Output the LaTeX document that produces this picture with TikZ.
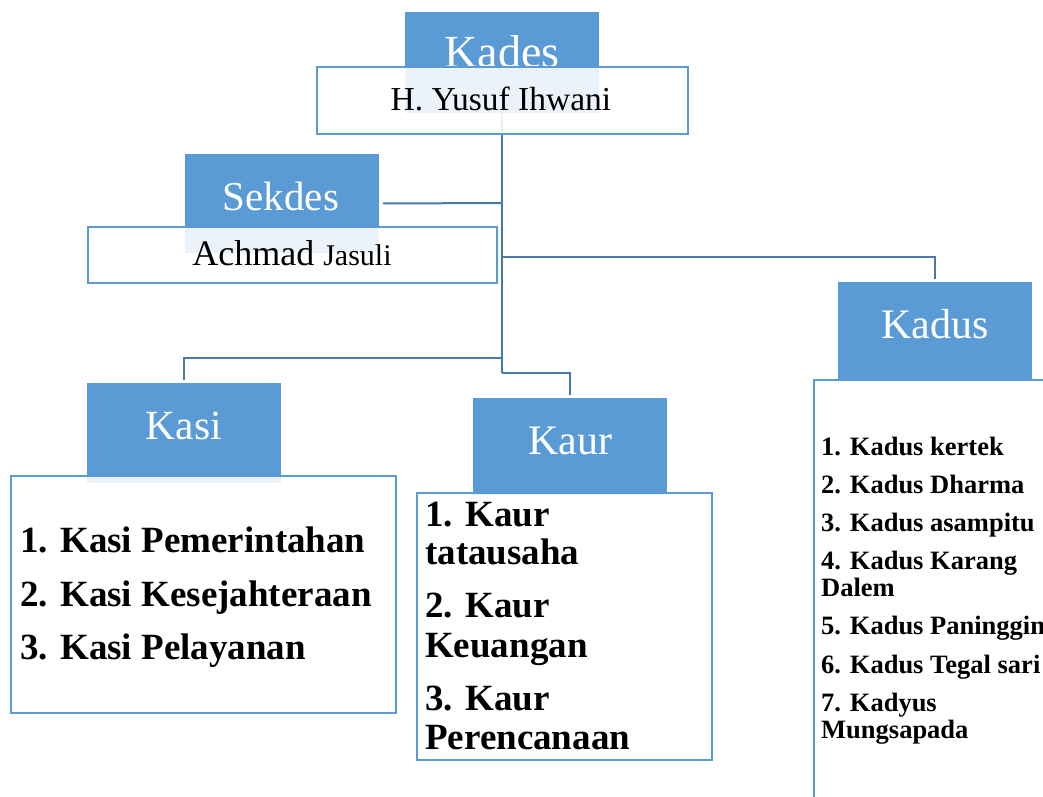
\documentclass[tikz,border=0pt]{standalone}
\usepackage{fontspec}
\setmainfont{Liberation Serif}
\definecolor{boxblue}{HTML}{5B9BD5}
\definecolor{linkblue}{RGB}{71,121,170}
\tikzset{
  bluebox/.style={rectangle, fill=boxblue, draw=none, inner sep=0pt},
  whitebox/.style={rectangle, draw=boxblue, line width=2pt, fill=white, fill opacity=0.88, inner sep=0pt},
  link/.style={draw=linkblue, line width=2pt},
  title/.style={inner sep=0pt, anchor=base, text=white, font=\fontsize{42}{48}\selectfont},
  nametext/.style={inner sep=0pt, anchor=base},
  bigitem/.style={inner sep=0pt, anchor=base west, font=\fontsize{37}{42}\selectfont\bfseries},
  smallitem/.style={inner sep=0pt, anchor=base west, font=\fontsize{26.5}{30}\selectfont\bfseries}
}
\begin{document}
\begin{tikzpicture}[x=1pt,y=-1pt]
\useasboundingbox (0,0) rectangle (1043,796);
\clip (0,0) rectangle (1043,796);
\fill[white] (0,0) rectangle (1043,796);

% junction coordinates on the trunk
\coordinate (j1) at (502,203);
\coordinate (j2) at (502,257);
\coordinate (j3) at (502,358);
\coordinate (j4) at (502,373);

% blue title boxes
\node[bluebox, minimum width=194pt, minimum height=101pt] (kadesB) at (502,62.5) {};
\node[bluebox, minimum width=194pt, minimum height=99pt] (sekdesB) at (282,203.5) {};
\node[bluebox, minimum width=194pt, minimum height=98pt] (kadusB) at (935,331) {};
\node[bluebox, minimum width=194pt, minimum height=100pt] (kasiB) at (184,433) {};
\node[bluebox, minimum width=194pt, minimum height=97pt] (kaurB) at (570,446.5) {};

% connectors
\draw[link] (kadesB.south) -- (j4);
\draw[link, shorten >=3pt] (j4) -| (kaurB.north);
\draw[link, shorten >=4pt] (j1) -- (sekdesB.east);
\draw[link, shorten >=3pt] (j2) -| (kadusB.north);
\draw[link, shorten >=3pt] (j3) -| (kasiB.north);

% titles
\node[title, font=\fontsize{46}{52}\selectfont] (kadesT) at (502,67) {Kades};
\node[title, font=\fontsize{41}{48}\selectfont] (sekdesT) at (281,210) {Sekdes};
\node[title] (kadusT) at (935,338) {Kadus};
\node[title, font=\fontsize{41.5}{48}\selectfont] (kasiT) at (184,439) {Kasi};
\node[title] (kaurT) at (570,454) {Kaur};

% white boxes
\node[whitebox, minimum width=371pt, minimum height=67pt] (kadesW) at (502.5,100.5) {};
\node[whitebox, minimum width=409pt, minimum height=56pt] (sekdesW) at (292.5,255) {};
\node[whitebox, minimum width=246pt, minimum height=430pt, fill opacity=1] (kadusW) at (937,595) {};
\node[whitebox, minimum width=385pt, minimum height=237pt] (kasiW) at (203.5,594.5) {};
\node[whitebox, minimum width=295pt, minimum height=267pt] (kaurW) at (564.5,626.5) {};

% names
\node[nametext, font=\fontsize{33.5}{38}\selectfont] (kadesN) at (501,110) {H. Yusuf Ihwani};
\node[nametext] (sekdesN) at (292,265) {\fontsize{36}{40}\selectfont Achmad\ \fontsize{30}{36}\selectfont Jasuli};

% Kasi list
\node[bigitem] (kasi1) at (20,552) {1. Kasi Pemerintahan};
\node[bigitem] (kasi2) at (20,606) {2. Kasi Kesejahteraan};
\node[bigitem] (kasi3) at (20,659) {3. Kasi Pelayanan};

% Kaur list
\node[bigitem] (kaur1a) at (425,526) {1. Kaur};
\node[bigitem] (kaur1b) at (425,564) {tatausaha};
\node[bigitem] (kaur2a) at (425,617) {2. Kaur};
\node[bigitem] (kaur2b) at (425,657) {Keuangan};
\node[bigitem] (kaur3a) at (425,710) {3. Kaur};
\node[bigitem] (kaur3b) at (425,749) {Perencanaan};

% Kadus list
\node[smallitem] (kadus1) at (821,455) {1. Kadus kertek};
\node[smallitem] (kadus2) at (821,493) {2. Kadus Dharma};
\node[smallitem] (kadus3) at (821,531) {3. Kadus asampitu};
\node[smallitem] (kadus4a) at (821,569) {4. Kadus Karang};
\node[smallitem] (kadus4b) at (821,596) {Dalem};
\node[smallitem] (kadus5) at (821,634) {5. Kadus Paninggin};
\node[smallitem] (kadus6) at (821,673) {6. Kadus Tegal sari};
\node[smallitem] (kadus7a) at (821,711) {7. Kadyus};
\node[smallitem] (kadus7b) at (821,738) {Mungsapada};
\end{tikzpicture}
\end{document}
